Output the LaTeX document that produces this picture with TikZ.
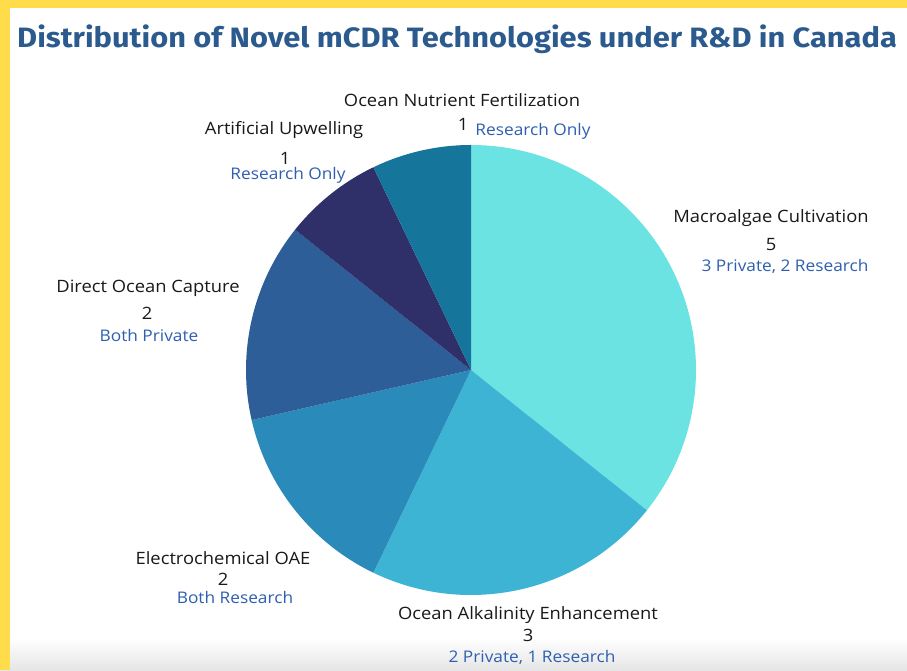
\documentclass[tikz,border=0pt]{standalone}
\usepackage{fontspec}
\setmainfont[FakeStretch=1.08]{Open Sans}
\newfontfamily\titlefont[FakeStretch=1.1]{Fira Sans}
\usetikzlibrary{calc}
\definecolor{frameyellow}{HTML}{FFDD4A}
\definecolor{titleblue}{HTML}{2B5A8E}
\definecolor{noteblue}{HTML}{2F5FB0}
\definecolor{macrocol}{HTML}{6CE3E3}
\definecolor{oaecol}{HTML}{3EB4D4}
\definecolor{electrocol}{HTML}{2A8BBA}
\definecolor{capturecol}{HTML}{2D5E98}
\definecolor{upwellcol}{HTML}{2F2F6A}
\definecolor{nutrientcol}{HTML}{15759A}
\def\pieslice[#1](#2)(#3:#4:#5){\fill[#1] (#2) -- ++(#3:#5) arc (#3:#4:#5) -- cycle;}
\tikzset{
  techname/.style={text=black!90, font=\fontsize{17}{19}\selectfont, inner sep=0pt},
  techcount/.style={text=black!90, font=\fontsize{17}{19}\selectfont, inner sep=0pt},
  technote/.style={text=noteblue, font=\fontsize{16}{18}\selectfont, inner sep=0pt}
}

\begin{document}
\begin{tikzpicture}[x=1pt, y=1pt]
				\useasboundingbox (0,0) rectangle (907,670);
				\fill[white] (0,0) rectangle (907,670);
				\shade[top color=white, bottom color=black!10] (0,0) rectangle (907,32);
				\fill[frameyellow] (0,0) rectangle (10,670);
				\fill[frameyellow] (0,662) rectangle (907,670);
				
				\node[anchor=west, text=titleblue, font=\titlefont\bfseries\fontsize{28}{30}\selectfont, inner sep=0pt] (title) at (17,631) {Distribution of Novel mCDR Technologies under R\&D in Canada};
				
				\coordinate (ctr) at (471,300);
				\pieslice[macrocol](ctr)(90:-38.571:225pt);
				\pieslice[oaecol](ctr)(-38.571:-115.714:225pt);
				\pieslice[electrocol](ctr)(-115.714:-167.143:225pt);
				\pieslice[capturecol](ctr)(-167.143:-218.571:225pt);
				\pieslice[upwellcol](ctr)(-218.571:-244.286:225pt);
				\pieslice[nutrientcol](ctr)(-244.286:-270:225pt);
				
				\node[techname] (nutrient-name) at (462,570) {Ocean Nutrient Fertilization};
				\node[techcount] (nutrient-count) at (463,546) {1};
				\node[technote] (nutrient-note) at (533,539) {Research Only};
				
				\node[techname] (upwell-name) at (284,540) {Artificial Upwelling};
				\node[techcount] (upwell-count) at (285,512) {1};
				\node[technote] (upwell-note) at (288,495) {Research Only};
				
				\node[techname] (macro-name) at (771,452) {Macroalgae Cultivation};
				\node[techcount] (macro-count) at (771,425) {5};
				\node[technote] (macro-note) at (785,404) {3 Private, 2 Research};
				
				\node[techname] (capture-name) at (148,382) {Direct Ocean Capture};
				\node[techcount] (capture-count) at (147,357) {2};
				\node[technote] (capture-note) at (149,334) {Both Private};
				
				\node[techname] (electro-name) at (223,112) {Electrochemical OAE};
				\node[techcount] (electro-count) at (223,91) {2};
				\node[technote] (electro-note) at (235,73) {Both Research};
				
				\node[techname] (oae-name) at (528,55) {Ocean Alkalinity Enhancement};
				\node[techcount] (oae-count) at (528,35) {3};
				\node[technote] (oae-note) at (532,13) {2 Private, 1 Research};
			\end{tikzpicture}
\end{document}
